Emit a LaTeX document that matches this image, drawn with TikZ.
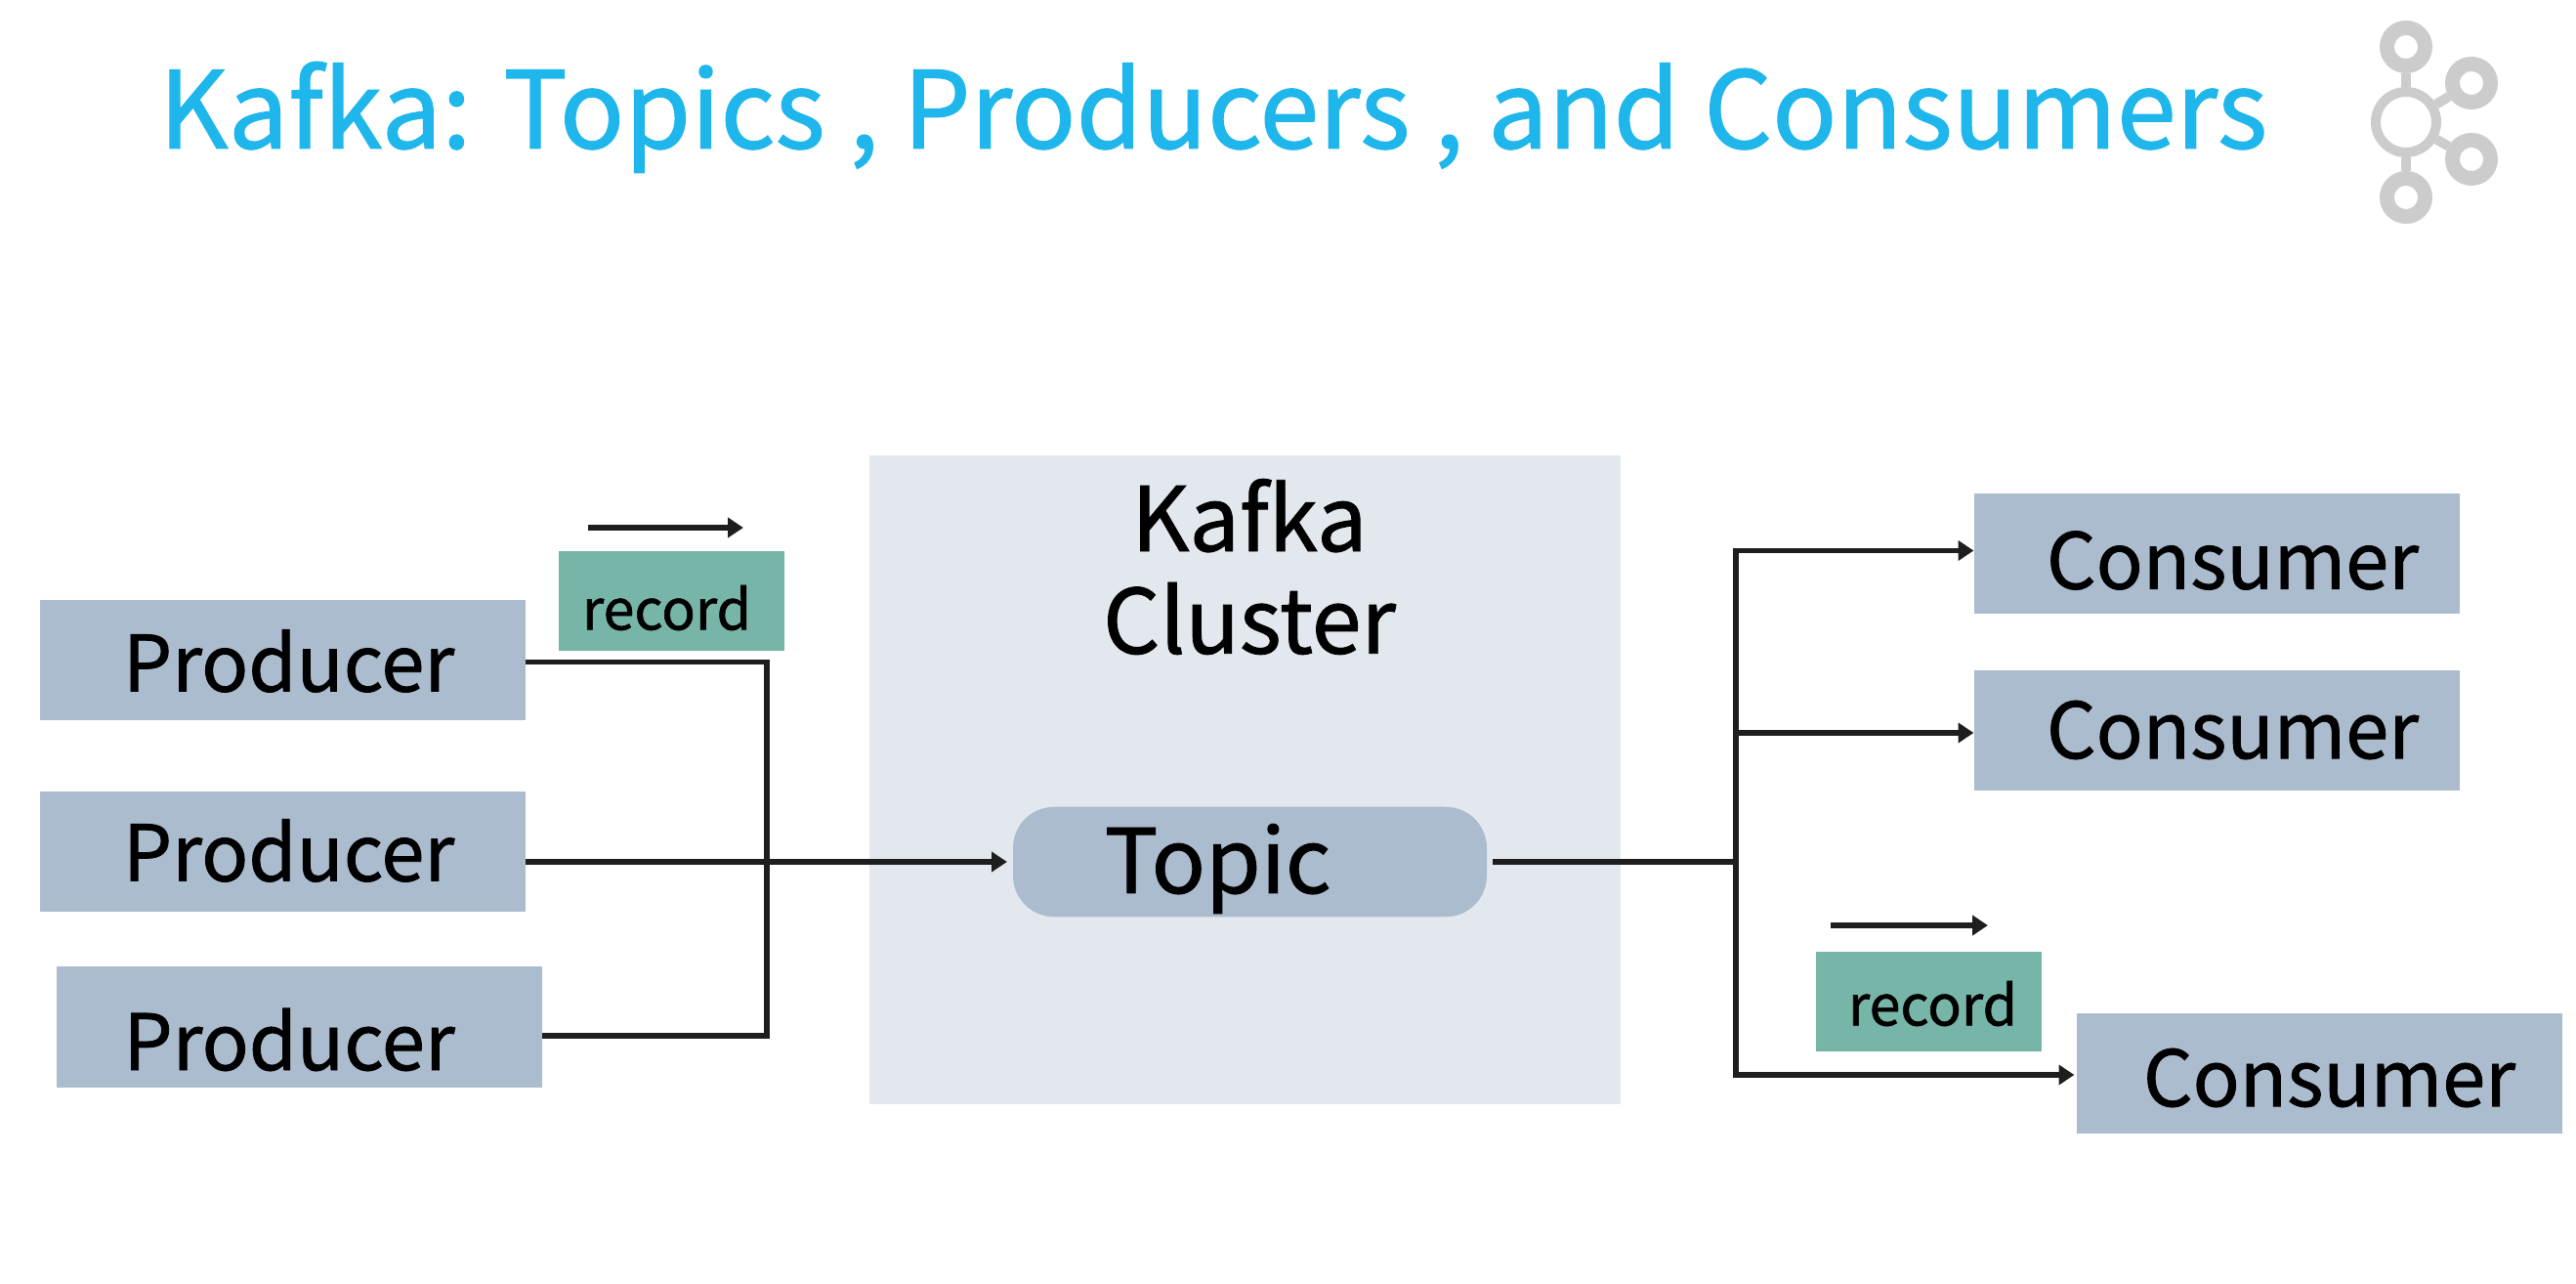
\documentclass[tikz,border=0pt]{standalone}
\usepackage{fontspec}
\setmainfont[FakeBold=1]{Noto Sans CJK SC}
\usetikzlibrary{arrows.meta,positioning}
\definecolor{titleblue}{HTML}{1FB6EB}
\definecolor{steel}{HTML}{ABBCCF}
\definecolor{mist}{HTML}{E3E8EF}
\definecolor{jade}{HTML}{77B5A8}
\definecolor{ink}{HTML}{1E1E1E}
\definecolor{icongray}{HTML}{CCCCCC}
\tikzset{
  endpoint/.style={
    fill=steel, minimum width=4.97cm, minimum height=1.23cm,
    inner sep=0pt, outer sep=0pt
  },
  boxtext/.style={font=\fontsize{22.6}{22.6}\selectfont, text=black, inner sep=0pt},
  recordbox/.style={
    fill=jade, minimum width=2.31cm, minimum height=1.02cm, inner sep=0pt, outer sep=0pt
  },
  recordtext/.style={font=\fontsize{16.3}{16.3}\selectfont, text=black, inner sep=0pt},
  arrow/.style={-{Triangle[length=1.6mm,width=2mm]}, line width=0.052cm, draw=ink},
  wire/.style={line width=0.052cm, draw=ink},
  hubring/.style={circle, draw=icongray, line width=0.10cm, minimum size=0.62cm},
  leafring/.style={circle, draw=icongray, line width=0.15cm, minimum size=0.39cm},
  spoke/.style={line width=0.10cm, draw=icongray}
}
\begin{document}
\begin{tikzpicture}
        \useasboundingbox (0,0) rectangle (26.37,-13.14);
        \node[font=\fontsize{31.2}{31.2}\selectfont, text=titleblue, inner sep=0pt] (title) at (12.42,-1.20) {Kafka: Topics , Producers , and Consumers};
        \node[hubring] (hub) at (24.63,-1.25) {};
        \node[leafring] (leafa) at (24.63,-0.48) {};
        \node[leafring] (leafb) at (25.30,-0.85) {};
        \node[leafring] (leafc) at (25.30,-1.63) {};
        \node[leafring] (leafd) at (24.63,-2.02) {};
        \draw[spoke] (hub) -- (leafa);
        \draw[spoke] (hub) -- (leafb);
        \draw[spoke] (hub) -- (leafc);
        \draw[spoke] (hub) -- (leafd);
        \node[fill=mist, minimum width=7.69cm, minimum height=6.64cm, inner sep=0pt] (cluster) at (12.745,-7.98) {};
        \node[font=\fontsize{26}{29.8}\selectfont, align=center, inner sep=0pt] (clustername) at (12.79,-5.80) {Kafka\\Cluster};
        \node[fill=steel, rounded corners=0.42cm, minimum width=4.85cm, minimum height=1.125cm, inner sep=0pt, outer sep=0pt,
          label={[boxtext, xshift=-0.33cm, yshift=-0.07cm, font=\fontsize{26}{26}\selectfont]center:Topic}] (topic) at (12.795,-8.82) {};
        \node[endpoint, label={[boxtext, xshift=0.06cm, yshift=-0.01cm]center:Producer}] (p1) at (2.895,-6.755) {};
        \node[endpoint, below=0.73cm of p1, label={[boxtext, xshift=0.06cm, yshift=0.01cm]center:Producer}] (p2) {};
        \node[endpoint, label={[boxtext, xshift=-0.105cm, yshift=-0.13cm]center:Producer}] (p3) at (3.065,-10.51) {};
        \node[recordbox, label={[recordtext, xshift=-0.05cm, yshift=-0.07cm]center:record}] (r1) at (6.875,-6.15) {};
        \node[endpoint, label={[boxtext, xshift=0.165cm, yshift=-0.07cm]center:Consumer}] (c1) at (22.69,-5.665) {};
        \node[endpoint, below=0.585cm of c1, label={[boxtext, xshift=0.165cm, yshift=0.01cm]center:Consumer}] (c2) {};
        \node[endpoint, label={[boxtext, xshift=0.105cm, yshift=-0.05cm]center:Consumer}] (c3) at (23.74,-10.98) {};
        \node[recordbox, label={[recordtext, xshift=0.04cm, yshift=-0.02cm]center:record}] (r2) at (19.745,-10.25) {};
        \coordinate (merge) at (7.85,-8.82);
        \coordinate (split) at (17.77,-8.82);
        \draw[wire] (p1.east) ++(0,-0.02) -| (merge);
        \draw[wire] ([yshift=-0.09cm]p3.east) -| (merge);
        \draw[arrow] (p2.east |- topic.west) -- ([xshift=-0.06cm]topic.west);
        \draw[wire] ([xshift=0.06cm]topic.east) -- (split);
        \draw[arrow] (split) |- ([yshift=0.03cm]c1.west);
        \draw[arrow] (split) |- ([yshift=-0.02cm]c2.west);
        \draw[arrow] (split) |- ([xshift=-0.02cm,yshift=-0.02cm]c3.west);
        \draw[arrow] ([xshift=0.30cm,yshift=0.24cm]r1.north west) -- ([xshift=-0.42cm,yshift=0.24cm]r1.north east);
        \draw[arrow] ([xshift=0.15cm,yshift=0.27cm]r2.north west) -- ([xshift=-0.55cm,yshift=0.27cm]r2.north east);
      \end{tikzpicture}
\end{document}
